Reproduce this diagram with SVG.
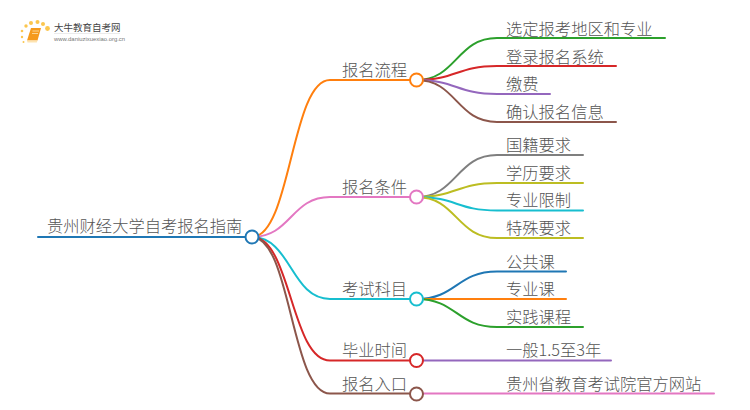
<svg xmlns="http://www.w3.org/2000/svg" width="750" height="410" viewBox="0 0 750 410">
<style>
text{font-family:"Noto Sans CJK SC","Noto Sans",sans-serif;fill:#555;font-size:16.3px;font-weight:300}
.c{fill:none;stroke-width:2;stroke-linecap:round}
.n{fill:#fff;stroke-width:2}
.logo{font-size:9.500px;font-weight:400;fill:#444}
.url{font-size:5.900px;font-weight:400;fill:#777;font-family:"Liberation Sans",sans-serif}
</style>
<rect width="750" height="410" fill="#fff"/>
<g id="logo">
<g fill="#fbc64e"><circle cx="47.500" cy="28.500" r="2.400"/><circle cx="43" cy="24" r="2"/><circle cx="37.500" cy="22" r="2"/><circle cx="31" cy="23" r="2"/><circle cx="26" cy="26" r="1.700"/><circle cx="22" cy="31" r="1.300"/><circle cx="22" cy="37" r="1.200"/><circle cx="23.500" cy="42" r="1"/></g>
<path d="M31 28H41L37.500 40.500H27Z" fill="#f59a1c"/>
<path d="M27 40.500H37.500L36.800 42.500H27.500Z" fill="#fde3b0"/>
<path d="M32.500 31H39M32 33.500H38" stroke="#fde3b0" stroke-width=".8" fill="none"/>
<text class="logo" x="54" y="31">大牛教育自考网</text>
<path d="M54 33.500H120" stroke="#ddd" stroke-width=".6"/>
<text class="url" x="54" y="41">www.daniuzixuexiao.org.cn</text>
</g>
<g id="connectors">
<path class="c" stroke="#1f77b4" d="M38 237H245.500"/>
<path class="c" stroke="#ff7f0e" d="M252 237C291 237 291 80 330 80H410"/>
<path class="c" stroke="#e377c2" d="M252 237C291 237 291 197 330 197H410"/>
<path class="c" stroke="#17becf" d="M252 237C291 237 291 299 330 299H410"/>
<path class="c" stroke="#d62728" d="M252 237C291 237 291 360.500 330 360.500H410"/>
<path class="c" stroke="#8c564b" d="M252 237C291 237 291 393.500 330 393.500H410"/>
<path class="c" stroke="#2ca02c" d="M416.500 80C456.500 80 456.500 38 497 38H665"/>
<path class="c" stroke="#d62728" d="M416.500 80C456.500 80 456.500 66 497 66H616"/>
<path class="c" stroke="#9467bd" d="M416.500 80C456.500 80 456.500 94 497 94H550"/>
<path class="c" stroke="#8c564b" d="M416.500 80C456.500 80 456.500 122 497 122H616"/>
<path class="c" stroke="#7f7f7f" d="M416.500 197C456.500 197 456.500 155 497 155H583"/>
<path class="c" stroke="#bcbd22" d="M416.500 197C456.500 197 456.500 183 497 183H583"/>
<path class="c" stroke="#17becf" d="M416.500 197C456.500 197 456.500 210.500 497 210.500H583"/>
<path class="c" stroke="#bcbd22" d="M416.500 197C456.500 197 456.500 238 497 238H583"/>
<path class="c" stroke="#1f77b4" d="M416.500 299C456.500 299 456.500 271.500 497 271.500H566"/>
<path class="c" stroke="#ff7f0e" d="M423 299H566"/>
<path class="c" stroke="#2ca02c" d="M416.500 299C456.500 299 456.500 327 497 327H583"/>
<path class="c" stroke="#9467bd" d="M423 360.500H611"/>
<path class="c" stroke="#e377c2" d="M423 393.500H714"/>
</g>
<g id="root"><text x="47" y="231.500">贵州财经大学自考报名指南</text><circle class="n" stroke="#1f77b4" cx="252" cy="237" r="6.500"/></g>
<g id="n1"><text x="342" y="75.500">报名流程</text><circle class="n" stroke="#ff7f0e" cx="416.500" cy="80" r="6.500"/></g>
<g id="n2"><text x="342" y="192.500">报名条件</text><circle class="n" stroke="#e377c2" cx="416.500" cy="197" r="6.500"/></g>
<g id="n3"><text x="342" y="294.500">考试科目</text><circle class="n" stroke="#17becf" cx="416.500" cy="299" r="6.500"/></g>
<g id="n4"><text x="342" y="355.500">毕业时间</text><circle class="n" stroke="#d62728" cx="416.500" cy="360.500" r="6.500"/></g>
<g id="n5"><text x="342" y="389.500">报名入口</text><circle class="n" stroke="#8c564b" cx="416.500" cy="394" r="6.500"/></g>
<g id="n1a"><text x="506" y="34.500">选定报考地区和专业</text></g>
<g id="n1b"><text x="506" y="62.500">登录报名系统</text></g>
<g id="n1c"><text x="506" y="90">缴费</text></g>
<g id="n1d"><text x="506" y="117.500">确认报名信息</text></g>
<g id="n2a"><text x="506" y="151">国籍要求</text></g>
<g id="n2b"><text x="506" y="178.500">学历要求</text></g>
<g id="n2c"><text x="506" y="206">专业限制</text></g>
<g id="n2d"><text x="506" y="234">特殊要求</text></g>
<g id="n3a"><text x="506" y="267.500">公共课</text></g>
<g id="n3b"><text x="506" y="295">专业课</text></g>
<g id="n3c"><text x="506" y="322.500">实践课程</text></g>
<g id="n4a"><text x="506" y="356">一般1.5至3年</text></g>
<g id="n5a"><text x="506" y="389.500">贵州省教育考试院官方网站</text></g>
</svg>
